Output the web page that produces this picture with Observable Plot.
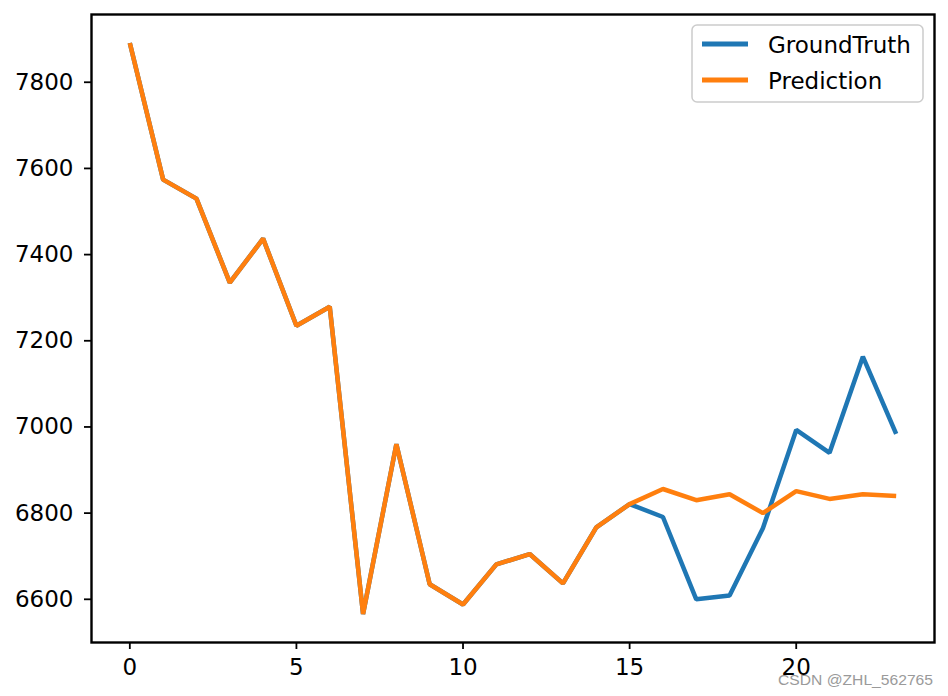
<!DOCTYPE html>
<html>
<head>
<meta charset="utf-8">
<script src="https://cdn.jsdelivr.net/npm/d3@7"></script>
<script src="https://cdn.jsdelivr.net/npm/@observablehq/plot@0.6"></script>
<style>
  html, body { margin: 0; padding: 0; background: #fff; }
  #chart { width: 948px; height: 696px; }
</style>
</head>
<body>
<div id="chart"></div>
<script>
const steps = d3.range(24);
const groundTruth = [7891, 7574, 7530, 7335, 7437, 7235, 7279, 6566, 6960, 6635, 6588, 6681,
                     6705, 6637, 6767, 6821, 6791, 6600, 6609, 6765, 6993, 6940, 7163, 6984];
const prediction  = [7891, 7574, 7530, 7335, 7437, 7235, 7279, 6566, 6960, 6635, 6588, 6681,
                     6705, 6637, 6767, 6821, 6856, 6830, 6844, 6800, 6851, 6833, 6844, 6840];
const seriesNames = ["GroundTruth", "Prediction"];
const seriesColors = ["#1f77b4", "#ff7f0e"];
const xTicks = [0, 5, 10, 15, 20];
const yTicks = [6600, 6800, 7000, 7200, 7400, 7600, 7800];

const gtData = steps.map((s, i) => ({x: s, y: groundTruth[i]}));
const prData = steps.map((s, i) => ({x: s, y: prediction[i]}));

// matplotlib-style 5% margins
const xExt = d3.extent(steps), xPad = (xExt[1] - xExt[0]) * 0.05;
const allY = groundTruth.concat(prediction);
const yExt = d3.extent(allY), yPad = (yExt[1] - yExt[0]) * 0.05;

const fontFam = "DejaVu Sans, sans-serif";
const fs = 23;

const svg = Plot.plot({
  width: 948,
  height: 696,
  marginLeft: 91,
  marginRight: 14,
  marginTop: 14,
  marginBottom: 54,
  style: {fontFamily: fontFam, fontSize: fs + "px", color: "black", background: "white"},
  x: {domain: [xExt[0] - xPad, xExt[1] + xPad]},
  y: {domain: [yExt[0] - yPad, yExt[1] + yPad]},
  marks: [
    Plot.line(gtData, {x: "x", y: "y", stroke: seriesColors[0], strokeWidth: 4.5, strokeLinejoin: "miter", strokeLinecap: "butt"}),
    Plot.line(prData, {x: "x", y: "y", stroke: seriesColors[1], strokeWidth: 4.5, strokeLinejoin: "miter", strokeLinecap: "butt"}),
    Plot.frame({stroke: "black", strokeWidth: 2.4}),
    Plot.axisX({ticks: xTicks, tickSize: 7, tickPadding: 9, strokeWidth: 1.8, fontSize: fs, label: null, tickFormat: d => String(d)}),
    Plot.axisY({ticks: yTicks, tickSize: 7, tickPadding: 11, strokeWidth: 1.8, fontSize: fs, label: null, tickFormat: d => String(d)})
  ]
});

const root = d3.select(svg);
// Legend
const lg = root.append("g").attr("font-family", fontFam).attr("font-size", fs).attr("text-anchor", "start");
lg.append("rect")
  .attr("x", 692).attr("y", 25).attr("width", 231).attr("height", 77)
  .attr("rx", 5).attr("ry", 5)
  .attr("fill", "white").attr("fill-opacity", 0.8)
  .attr("stroke", "#cccccc").attr("stroke-width", 1.5);
const legendRows = [44, 80];
seriesNames.forEach((name, i) => {
  lg.append("line")
    .attr("x1", 702).attr("x2", 748)
    .attr("y1", legendRows[i]).attr("y2", legendRows[i])
    .attr("stroke", seriesColors[i]).attr("stroke-width", 4.8);
  lg.append("text")
    .attr("x", 768).attr("y", legendRows[i] + 9)
    .attr("fill", "black")
    .text(name);
});

// Watermark
root.append("text")
  .attr("x", 778).attr("y", 685)
  .attr("text-anchor", "start")
  .attr("font-family", "Liberation Sans Narrow, Liberation Sans, Arial, sans-serif")
  .attr("font-size", 15)
  .attr("fill", "#9a9a9a")
  .attr("textLength", 155)
  .attr("lengthAdjust", "spacingAndGlyphs")
  .text("CSDN @ZHL_562765");

document.getElementById("chart").appendChild(svg);
</script>
</body>
</html>
